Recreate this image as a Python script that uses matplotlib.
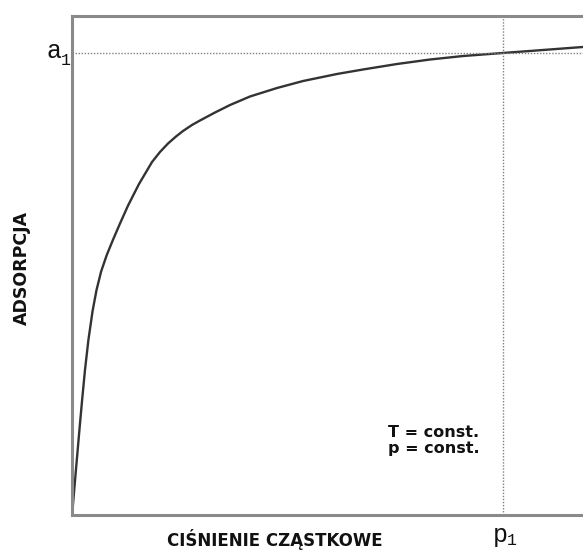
import matplotlib
matplotlib.use("Agg")
import matplotlib.pyplot as plt

# data (arbitrary units)
pressure = [0.10, 0.43, 0.94, 1.45, 1.98, 2.54, 3.21, 4.03, 4.80, 5.70, 6.80, 8.00, 9.30, 10.96, 13.11,
            15.66, 17.22, 18.79, 20.35, 21.72, 23.48, 25.05, 27.98, 30.92, 34.83, 40.12, 45.21,
            51.86, 56.95, 63.60, 70.06, 76.52, 84.34, 89.63, 96.09, 100.0]
adsorption = [1.00, 5.01, 11.02, 17.03, 23.05, 29.06, 35.07, 40.90, 45.10, 48.80, 52.10, 55.10, 58.20, 62.00, 66.33,
              70.74, 72.75, 74.45, 75.85, 76.95, 78.16, 79.06, 80.66, 82.16, 83.87, 85.57, 86.97,
              88.38, 89.28, 90.38, 91.28, 91.98, 92.59, 92.99, 93.49, 93.79]
a1_value = 92.6
p1_value = 84.3
xlabel = "CIŚNIENIE CZĄSTKOWE"
ylabel = "ADSORPCJA"
note_lines = ["T = const.", "p = const."]

fig = plt.figure(figsize=(5.83, 5.51), dpi=100)
ax = fig.add_axes([72/583, 36/551, 511/583, 499/551])
ax.set_xlim(0, 100)
ax.set_ylim(0, 100)

ax.plot(pressure, adsorption, color='#333333', lw=1.7, solid_joinstyle='round')
ax.axhline(a1_value, color='#808080', lw=1.0, ls=(0, (1, 1.2)))
ax.axvline(p1_value, color='#808080', lw=1.0, ls=(0, (1, 1.2)))

for s in ['left', 'bottom', 'top']:
    ax.spines[s].set_color('#8a8a8a')
    ax.spines[s].set_linewidth(2.2)
ax.spines['right'].set_visible(False)
ax.set_xticks([])
ax.set_yticks([])

mono = 'Liberation Mono'
# a1 label
ax.text(-2.0, a1_value + 0.4, 'a', ha='right', va='center', fontsize=18, family=mono, color='#111111')
ax.text(-0.3, a1_value - 1.5, '1', ha='right', va='center', fontsize=12, family=mono, color='#111111')
# p1 label
ax.text(p1_value + 0.9, -1.6, 'p', ha='right', va='top', fontsize=18, family=mono, color='#111111')
ax.text(p1_value + 0.7, -3.6, '1', ha='left', va='top', fontsize=12, family=mono, color='#111111')

ax.text(61.8, 15.0, note_lines[0] + "\n" + note_lines[1], ha='left', va='center',
        fontsize=11.5, fontweight='bold', color='#111111', linespacing=1.1)

fig.text(275/583, 1 - 540/551, xlabel, ha='center', va='center', fontsize=12, fontweight='bold', color='#111111')
fig.text(22/583, 1 - 268/551, ylabel, ha='center', va='center', rotation=90, fontsize=12.5, fontweight='bold', color='#111111')

fig.savefig('out.png', dpi=100)
